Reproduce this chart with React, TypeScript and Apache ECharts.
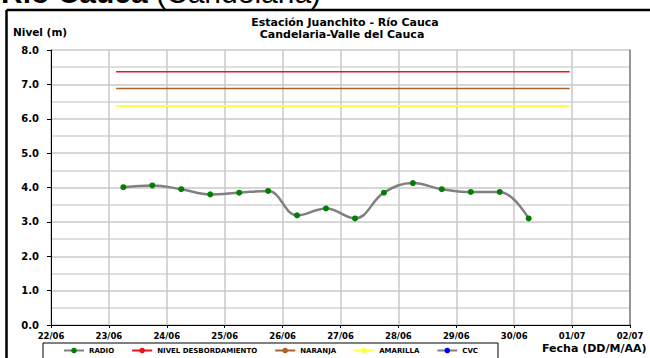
import React, { useEffect, useRef } from "react";
import * as echarts from "echarts";

const DAY_LABELS = ["22/06", "23/06", "24/06", "25/06", "26/06", "27/06", "28/06", "29/06", "30/06", "01/07", "02/07"];

const RADIO_TIMES = [
  "23/06 06:00", "23/06 18:00", "24/06 06:00", "24/06 18:00", "25/06 06:00",
  "25/06 18:00", "26/06 06:00", "26/06 18:00", "27/06 06:00", "27/06 18:00",
  "28/06 06:00", "28/06 18:00", "29/06 06:00", "29/06 18:00", "30/06 06:00",
];
const RADIO_VALUES = [4.01, 4.06, 3.95, 3.8, 3.85, 3.9, 3.19, 3.39, 3.1, 3.85, 4.13, 3.95, 3.87, 3.87, 3.1];

const THRESHOLD_TIMES = ["23/06 03:00", "30/06 23:00"];
const DESBORDAMIENTO = [7.37, 7.37];
const NARANJA = [6.88, 6.88];
const AMARILLA = [6.37, 6.37];

const CVC_TIMES: string[] = [];
const CVC_VALUES: number[] = [];

const BASE = Date.UTC(2024, 5, 22, 0, 0);
function toDays(s: string): number {
  const [d, t] = s.split(" ");
  const [dd, mm] = d.split("/").map(Number);
  const [hh, mi] = t.split(":").map(Number);
  return (Date.UTC(2024, mm - 1, dd, hh, mi) - BASE) / 86400000;
}
const pairs = (times: string[], vals: number[]) => times.map((t, i) => [toDays(t), vals[i]]);

const BOLD = "DejaVu Sans";

export default function App() {
  const ref = useRef<HTMLDivElement>(null);
  useEffect(() => {
    document.body.style.margin = "0";
    const chart = echarts.init(ref.current!, null, { renderer: "svg" });
    chart.setOption({
      animation: false,
      backgroundColor: "#fff",
      grid: { left: 51, right: 20, top: 50, bottom: 33, outerBoundsMode: "none" },
      xAxis: {
        type: "value",
        min: 0,
        max: 10,
        interval: 1,
        axisLine: { show: true, lineStyle: { color: "#000", width: 1 } },
        axisTick: { show: true, inside: false, length: 3, lineStyle: { color: "#000" } },
        axisLabel: {
          margin: 6,
          fontFamily: BOLD,
          fontWeight: "bold",
          fontSize: 8.5,
          color: "#000",
          formatter: (v: number) => DAY_LABELS[Math.round(v)] ?? "",
        },
        splitLine: { show: true, lineStyle: { color: "#c8c8c8", width: 1.5 } },
      },
      yAxis: [
        {
          type: "value",
          min: 0,
          max: 8,
          interval: 1,
          axisLine: { show: true, lineStyle: { color: "#000", width: 1 } },
          axisTick: { show: true, inside: false, length: 4, lineStyle: { color: "#000" } },
          axisLabel: {
            margin: 12,
            fontFamily: BOLD,
            fontWeight: "bold",
            fontSize: 10,
            color: "#000",
            formatter: (v: number) => v.toFixed(1),
          },
          splitLine: { show: true, lineStyle: { color: "#c8c8c8", width: 1.5 } },
          minorTick: { show: false, splitNumber: 2 },
          minorSplitLine: { show: true, lineStyle: { color: "#d4d4d4", width: 1.5 } },
        },
        {
          type: "value",
          position: "right",
          min: 0,
          max: 8,
          interval: 1,
          axisLine: { show: true, lineStyle: { color: "#808080", width: 1.5 } },
          axisTick: { show: false },
          axisLabel: { show: false },
          splitLine: { show: false },
        },
      ],
      legend: {
        left: 43,
        top: 343,
        orient: "horizontal",
        borderColor: "#000",
        borderWidth: 1,
        backgroundColor: "#fff",
        padding: [4, 20, 6, 20],
        itemWidth: 20,
        itemHeight: 7,
        itemGap: 17,
        textStyle: { fontFamily: BOLD, fontWeight: "bold", fontSize: 7, color: "#000" },
        data: ["RADIO", "NIVEL DESBORDAMIENTO", "NARANJA", "AMARILLA", "CVC"],
      },
      graphic: [
        { type: "line", shape: { x1: 6.5, y1: 10, x2: 650, y2: 10 }, style: { stroke: "#000", lineWidth: 2.5 } },
        { type: "line", shape: { x1: 6.5, y1: 10, x2: 6.5, y2: 358 }, style: { stroke: "#000", lineWidth: 2.5 } },
        {
          type: "text",
          x: 1,
          y: 7,
          style: {
            text: "{b|Río Cauca }{n|(Candelaria)}",
            verticalAlign: "bottom",
            rich: {
              b: { fontFamily: "Liberation Sans", fontWeight: "bold", fontSize: 30, fill: "#000" },
              n: { fontFamily: "Liberation Sans", fontWeight: "normal", fontSize: 30, fill: "#000" },
            },
          },
        },
        {
          type: "text",
          x: 345,
          y: 22.5,
          style: {
            text: "Estación Juanchito - Río Cauca",
            align: "center",
            verticalAlign: "middle",
            font: `bold 11px "${BOLD}"`,
            fill: "#000",
          },
        },
        {
          type: "text",
          x: 342,
          y: 34.5,
          style: {
            text: "Candelaria-Valle del Cauca",
            align: "center",
            verticalAlign: "middle",
            font: `bold 11px "${BOLD}"`,
            fill: "#000",
          },
        },
        {
          type: "text",
          x: 13,
          y: 32,
          style: { text: "Nivel (m)", verticalAlign: "middle", font: `bold 10.5px "${BOLD}"`, fill: "#000" },
        },
        {
          type: "text",
          x: 542,
          y: 348,
          style: { text: "Fecha (DD/M/AA)", verticalAlign: "middle", font: `bold 11px "${BOLD}"`, fill: "#000" },
        },
      ],
      series: [
        {
          name: "RADIO",
          type: "line",
          data: pairs(RADIO_TIMES, RADIO_VALUES),
          smooth: 0.4,
          symbol: "circle",
          symbolSize: 6,
          lineStyle: { color: "#808080", width: 2.5 },
          itemStyle: { color: "#008000" },
          z: 5,
        },
        {
          name: "NIVEL DESBORDAMIENTO",
          type: "line",
          data: pairs(THRESHOLD_TIMES, DESBORDAMIENTO),
          symbol: "none",
          lineStyle: { color: "#e8141c", width: 1.5 },
          itemStyle: { color: "#e8141c" },
        },
        {
          name: "NARANJA",
          type: "line",
          data: pairs(THRESHOLD_TIMES, NARANJA),
          symbol: "none",
          lineStyle: { color: "#a8642c", width: 1.5 },
          itemStyle: { color: "#a8642c" },
        },
        {
          name: "AMARILLA",
          type: "line",
          data: pairs(THRESHOLD_TIMES, AMARILLA),
          symbol: "none",
          lineStyle: { color: "#ffff44", width: 2 },
          itemStyle: { color: "#ffff44" },
        },
        {
          name: "CVC",
          type: "line",
          data: pairs(CVC_TIMES, CVC_VALUES),
          symbol: "circle",
          symbolSize: 6,
          lineStyle: { color: "#808080", width: 2 },
          itemStyle: { color: "#0000ff" },
        },
      ],
    });
    return () => chart.dispose();
  }, []);
  return <div ref={ref} style={{ position: "fixed", left: 0, top: 0, width: 650, height: 358 }} />;
}
